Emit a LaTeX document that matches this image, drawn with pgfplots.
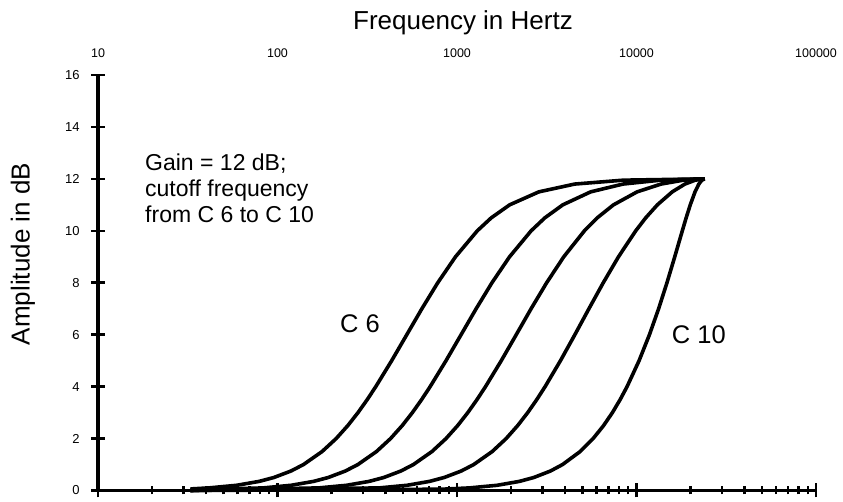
\documentclass[border=0pt]{standalone}
\usepackage{fontspec}
\setmainfont{Liberation Sans}
\usepackage{pgfplots}
\pgfplotsset{compat=1.18}
\begin{document}
\begin{tikzpicture}[x=1pt,y=1pt]
\useasboundingbox (0,0) rectangle (843,502);
\begin{axis}[
  at={(98pt,11.5pt)}, anchor=south west, scale only axis,
  width=718pt, height=415.5pt,
  xmode=log, xmin=10, xmax=100000, ymin=0, ymax=16,
  axis x line=bottom, axis y line=left,
  every outer x axis line/.style={-, line width=3.2pt, black},
  every outer y axis line/.style={-, line width=3.2pt, black},
  xtick={10,100,1000,10000,100000}, xticklabels={},
  minor xtick={20,30,40,50,60,70,80,90,200,300,400,500,600,700,800,900,2000,3000,4000,5000,6000,7000,8000,9000,20000,30000,40000,50000,60000,70000,80000,90000},
  ytick={0,2,4,6,8,10,12,14,16}, yticklabels={0,2,4,6,8,10,12,14,16},
  tick align=center, major tick length=14pt, minor tick length=8pt,
  every tick/.style={line width=2.6pt, black},
  every minor tick/.style={line width=2.4pt, black},
  yticklabel style={font=\fontsize{13}{15}\selectfont, anchor=east, xshift=-8pt},
  clip=false,
]
\addplot[black, line width=3.6pt, line join=round, mark=none] coordinates {(32.7,0.06) (41.54,0.1) (59.15,0.2) (79.02,0.35) (95.41,0.5) (118.85,0.75) (139.63,1) (177.17,1.5) (212.24,2) (246.47,2.5) (280.90,3) (316.17,3.5) (352.83,4) (432.60,5) (525.11,6) (637.37,7) (781.29,8) (980.93,9) (1297.05,10) (1552.11,10.5) (1965.43,11) (2858.64,11.5) (4528.19,11.8) (8443.4,11.95) (24000,12)};
\addplot[black, line width=3.6pt, line join=round, mark=none] coordinates {(32.7,0.02) (83.47,0.1) (118.85,0.2) (158.79,0.35) (191.72,0.5) (238.81,0.75) (280.55,1) (355.96,1.5) (426.40,2) (495.17,2.5) (564.27,3) (635.04,3.5) (708.63,4) (868.58,5) (1053.94,6) (1278.50,7) (1565.85,8) (1962.98,9) (2587.61,10) (3086.94,10.5) (3885.40,11) (5554.0,11.5) (8409.0,11.8) (13626.4,11.95) (24000,12)};
\addplot[black, line width=3.6pt, line join=round, mark=none] coordinates {(32.7,0) (170.17,0.1) (242.29,0.2) (323.68,0.35) (390.79,0.5) (486.74,0.75) (571.79,1) (725.32,1.5) (868.60,2) (1008.39,2.5) (1148.76,3) (1292.33,3.5) (1441.47,4) (1764.84,5) (2138.05,6) (2587.63,7) (3157.87,8) (3934.84,9) (5125.2,10) (6044.1,10.5) (7445.4,11) (10078.9,11.5) (13696.6,11.8) (18241.9,11.95) (24000,12)};
\addplot[black, line width=3.6pt, line join=round, mark=none] coordinates {(32.7,0) (369.46,0.1) (525.98,0.2) (702.48,0.35) (847.94,0.5) (1055.63,0.75) (1239.49,1) (1570.67,1.5) (1878.69,2) (2178.06,2.5) (2477.31,3) (2781.89,3.5) (3096.40,4) (3771.09,5) (4535.32,6) (5432.39,7) (6528.1,8) (7937.8,9) (9900.6,10) (11254.2,10.5) (13069.0,11) (15813.0,11.5) (18610.8,11.8) (21244.9,11.95) (24000,12)};
\addplot[black, line width=3.6pt, line join=round, mark=none] coordinates {(32.7,0) (829.5,0.05) (1175.38,0.1) (1670.27,0.2) (2224.56,0.35) (2677.44,0.5) (3316.61,0.75) (3873.80,1) (4853.33,1.5) (5732.7,2) (6554.8,2.5) (7342.4,3) (8107.5,3.5) (8858.6,4) (10337.1,5) (11805.2,6) (13280.6,7) (14780.8,8) (16333.4,9) (17996.6,10) (18910.4,10.5) (19932.7,11) (21185.9,11.5) (22243.2,11.8) (23127.3,11.95) (24000,12)};
\end{axis}
\begin{axis}[
  at={(98pt,11.5pt)}, anchor=south west, scale only axis,
  width=718pt, height=415.5pt,
  xmode=log, xmin=10, xmax=100000, ymin=0, ymax=16,
  axis x line*=top, axis y line=none,
  x axis line style={draw=none},
  xtick={10,100,1000,10000,100000}, xticklabels={10,100,1000,10000,100000},
  xminorticks=false, minor xtick={}, major tick length=0pt, minor tick length=0pt,
  every tick/.style={draw=none},
  xticklabel style={font=\fontsize{12.5}{14}\selectfont, anchor=base, yshift=17pt},
]
\end{axis}
\node[anchor=base, inner sep=0pt, font=\fontsize{26}{30}\selectfont] at (463,472) {Frequency in Hertz};
\node[rotate=90, anchor=base, inner sep=0pt, font=\fontsize{26}{30}\selectfont] at (29.5,248) {Amplitude in dB};
\node[anchor=base west, inner sep=0pt, font=\fontsize{23}{27}\selectfont] at (145,331.3) {Gain = 12 dB;};
\node[anchor=base west, inner sep=0pt, font=\fontsize{23}{27}\selectfont] at (145,305.3) {cutoff frequency};
\node[anchor=base west, inner sep=0pt, font=\fontsize{23}{27}\selectfont] at (145,279.3) {from C 6 to C 10};
\node[anchor=base west, inner sep=0pt, font=\fontsize{25.5}{28}\selectfont] at (340,169.3) {C 6};
\node[anchor=base west, inner sep=0pt, font=\fontsize{25.5}{28}\selectfont] at (671.7,158) {C 10};
\end{tikzpicture}
\end{document}
